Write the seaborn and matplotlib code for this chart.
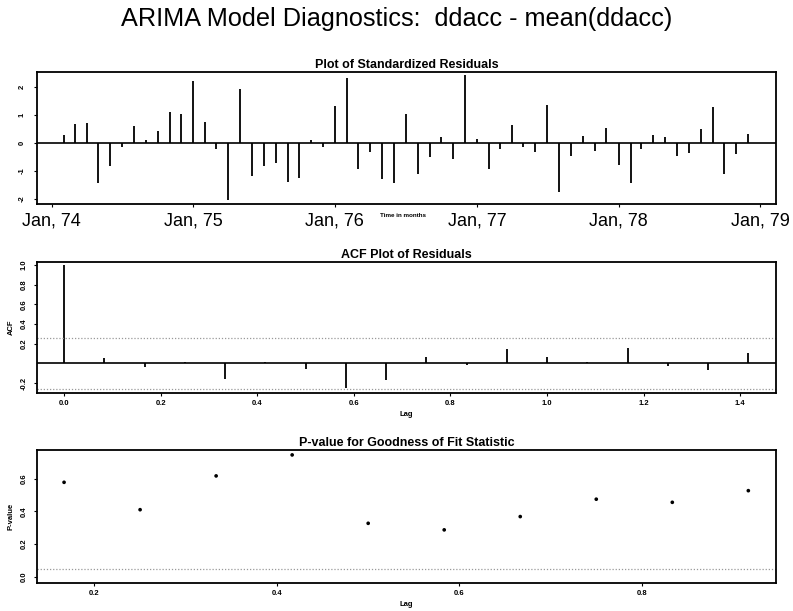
import numpy as np
import pandas as pd
import matplotlib
matplotlib.use("Agg")
import matplotlib.pyplot as plt
import matplotlib.dates as mdates
import seaborn as sns

# Standardized residuals, monthly from Feb 1974 to Dec 1978
resid = [0.27, 0.67, 0.72, -1.42, -0.81, -0.14, 0.61, 0.10, 0.42, 1.12, 1.04,
         2.22, 0.77, -0.20, -2.04, 1.93, -1.20, -0.81, -0.71, -1.39, -1.25, 0.12, -0.13,
         1.33, 2.33, -0.94, -0.31, -1.29, -1.45, 1.05, -1.12, -0.52, 0.20, -0.58, 2.45,
         0.13, -0.93, -0.20, 0.65, -0.13, -0.33, 1.37, -1.75, -0.48, 0.24, -0.30, 0.55,
         -0.78, -1.42, -0.22, 0.28, 0.23, -0.45, -0.36, 0.52, 1.28, -1.12, -0.40, 0.34]
start_month = "1974-02-01"
year_ticks = ["1974-01-01", "1975-01-01", "1976-01-01", "1977-01-01",
              "1978-01-01", "1979-01-01"]

# Autocorrelation of residuals, lags 0..17 months
acf_vals = [1.00, 0.06, -0.04, 0.01, -0.16, 0.01, -0.06, -0.25, -0.17,
            0.07, -0.02, 0.15, 0.07, 0.01, 0.16, -0.03, -0.07, 0.11]
acf_band = 0.26

# Portmanteau p-values, lags 2..11 months
pval_lags = [2, 3, 4, 5, 6, 7, 8, 9, 10, 11]
pvals = [0.577, 0.41, 0.616, 0.744, 0.327, 0.287, 0.368, 0.474, 0.455, 0.526]
alpha = 0.05

sns.set_style("ticks")
plt.rcParams["font.family"] = ["Liberation Sans", "DejaVu Sans"]
for key in ("text.color", "axes.labelcolor", "xtick.color", "ytick.color",
            "axes.edgecolor"):
    plt.rcParams[key] = "black"

fig = plt.figure(figsize=(7.93, 6.11), dpi=100)
left, width = 37 / 793, 739 / 793
ax1 = fig.add_axes([left, 1 - 204 / 611, width, 132 / 611])
ax2 = fig.add_axes([left, 1 - 393 / 611, width, 131 / 611])
ax3 = fig.add_axes([left, 1 - 583 / 611, width, 133 / 611])

fig.text(0.5, 1 - 19 / 611, "ARIMA Model Diagnostics:  ddacc - mean(ddacc)",
         ha="center", va="center", fontsize=18.2)

small = dict(fontsize=5.5, fontweight="bold")
title_kw = dict(fontsize=9, fontweight="bold", pad=3)

for ax in (ax1, ax2, ax3):
    for sp in ax.spines.values():
        sp.set_linewidth(1.3)
        sp.set_color("black")
    ax.tick_params(length=2, width=0.8, color="black")

# --- standardized residuals ---
res_df = pd.DataFrame({
    "date": pd.date_range(start_month, periods=len(resid), freq="MS"),
    "resid": resid,
})
ax1.vlines(res_df["date"], 0, res_df["resid"], color="black", linewidth=1.3)
ax1.axhline(0, color="black", linewidth=1.2)
ax1.set_xlim(pd.Timestamp("1973-11-24"), pd.Timestamp("1979-02-11"))
ax1.set_ylim(-2.19, 2.55)
ax1.set_xticks(pd.to_datetime(year_ticks))
ax1.xaxis.set_major_formatter(mdates.DateFormatter("Jan, %y"))
ax1.tick_params(axis="x", labelsize=13, pad=4)
ax1.set_yticks([-2, -1, 0, 1, 2])
ax1.set_yticklabels(["-2", "-1", "0", "1", "2"], rotation=90, va="center",
                    **small)
ax1.tick_params(axis="y", pad=6)
ax1.set_xlabel("")
ax1.set_ylabel("")
ax1.text(0.495, -0.085, "Time in months", transform=ax1.transAxes,
         ha="center", va="center", fontsize=4.5, fontweight="bold")
ax1.set_title("Plot of Standardized Residuals", **title_kw)

# --- ACF of residuals ---
acf_df = pd.DataFrame({"lag": np.arange(len(acf_vals)) / 12, "acf": acf_vals})
ax2.vlines(acf_df["lag"], 0, acf_df["acf"], color="black", linewidth=1.3)
ax2.axhline(0, color="black", linewidth=1.2)
for b in (acf_band, -acf_band):
    ax2.axhline(b, color="#999999", linewidth=0.9, linestyle=(0, (1, 1.5)))
ax2.set_xlim(-0.056, 1.474)
ax2.set_ylim(-0.30, 1.03)
ax2.set_xticks([0.0, 0.2, 0.4, 0.6, 0.8, 1.0, 1.2, 1.4])
ax2.set_xticklabels(["0.0", "0.2", "0.4", "0.6", "0.8", "1.0", "1.2", "1.4"],
                    **small)
ax2.set_yticks([-0.2, 0.2, 0.4, 0.6, 0.8, 1.0])
ax2.set_yticklabels(["-0.2", "0.2", "0.4", "0.6", "0.8", "1.0"], rotation=90,
                    va="center", **small)
ax2.tick_params(axis="y", pad=5)
ax2.tick_params(axis="x", pad=3)
ax2.set_xlabel("Lag", labelpad=3, **small)
ax2.set_ylabel("ACF", labelpad=4, **small)
ax2.set_title("ACF Plot of Residuals", **title_kw)

# --- p-values for goodness of fit ---
p_df = pd.DataFrame({"lag": np.array(pval_lags) / 12, "p": pvals})
sns.scatterplot(data=p_df, x="lag", y="p", ax=ax3, color="black", s=7,
                edgecolor="none", legend=False)
ax3.axhline(alpha, color="#999999", linewidth=0.9, linestyle=(0, (1, 1.5)))
ax3.set_xlim(0.137, 0.947)
ax3.set_ylim(-0.037, 0.774)
ax3.set_xticks([0.2, 0.4, 0.6, 0.8])
ax3.set_xticklabels(["0.2", "0.4", "0.6", "0.8"], **small)
ax3.set_yticks([0.0, 0.2, 0.4, 0.6])
ax3.set_yticklabels(["0.0", "0.2", "0.4", "0.6"], rotation=90, va="center",
                    **small)
ax3.tick_params(axis="y", pad=5)
ax3.tick_params(axis="x", pad=3)
ax3.set_xlabel("Lag", labelpad=3, **small)
ax3.set_ylabel("P-value", labelpad=4, **small)
ax3.set_title("P-value for Goodness of Fit Statistic", **title_kw)

fig.savefig("out.png", dpi=100)
